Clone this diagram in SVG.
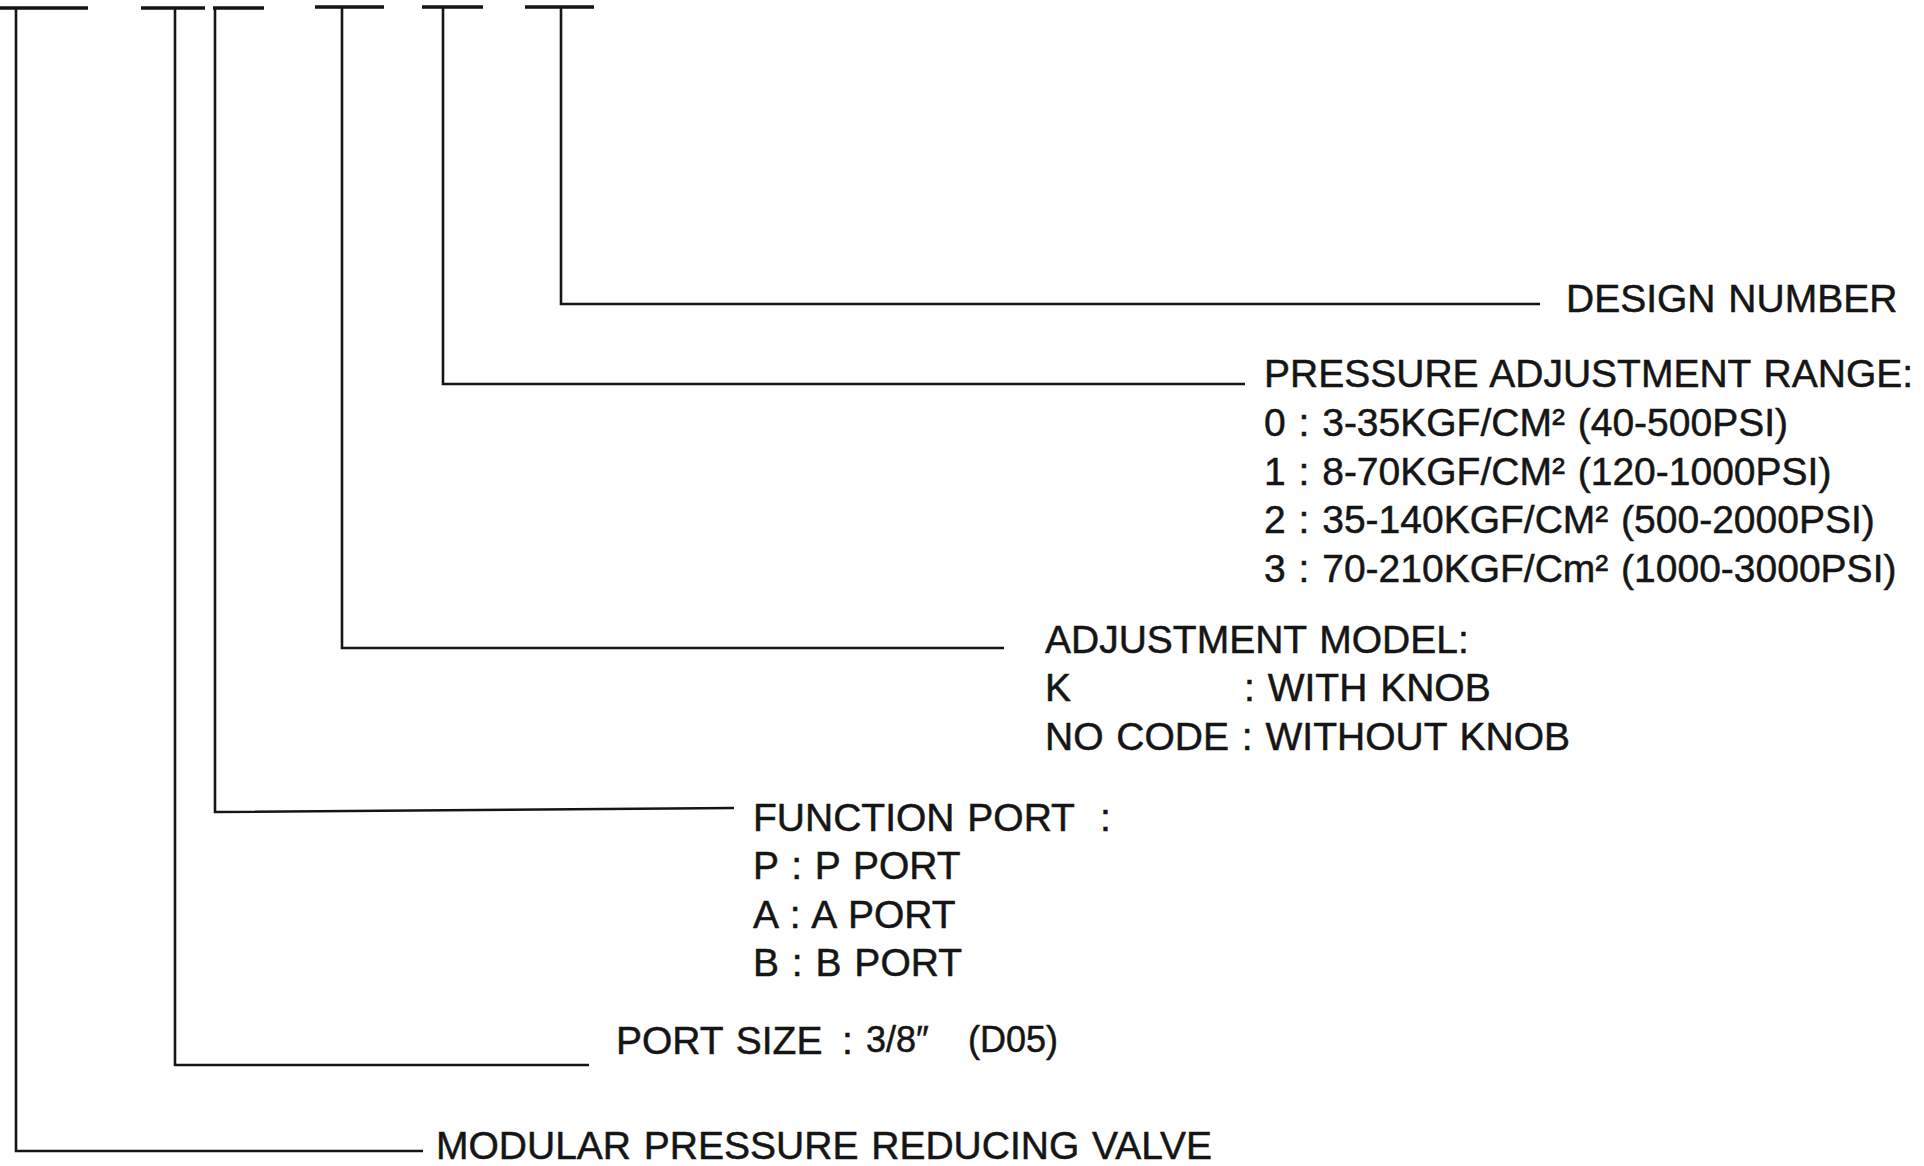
<svg xmlns="http://www.w3.org/2000/svg" width="1924" height="1166" viewBox="0 0 1924 1166">
<style>
.ln{fill:none;stroke:#151515;stroke-width:2.6;stroke-linejoin:miter}
.bar{fill:none;stroke:#151515;stroke-width:3.4}
text{font-family:"Liberation Sans",Arial,Helvetica,sans-serif;font-size:39px;fill:#151515;stroke:#151515;stroke-width:0.5;word-spacing:2px}
.sm{font-size:36px}
</style>
<rect width="1924" height="1166" fill="#ffffff"/>
<g id="connectors">
<path class="bar" d="M0 8H88M141 8H205M213 8H264M315 7H384M422 7H483M525 7H594"/>
<path class="ln" d="M16 8V1151H423"/>
<path class="ln" d="M175 8V1065H589"/>
<path class="ln" d="M215 8V812L734 808"/>
<path class="ln" d="M342 7V648H1004"/>
<path class="ln" d="M443 7V384H1245"/>
<path class="ln" d="M561 7V304H1540"/>
</g>
<g id="design-number"><text x="1566" y="312">DESIGN NUMBER</text></g>
<g id="pressure-range">
<text x="1264" y="387">PRESSURE ADJUSTMENT RANGE:</text>
<text x="1264" y="436">0 : 3-35KGF/CM² (40-500PSI)</text>
<text x="1264" y="485">1 : 8-70KGF/CM² (120-1000PSI)</text>
<text x="1264" y="533">2 : 35-140KGF/CM² (500-2000PSI)</text>
<text x="1264" y="582">3 : 70-210KGF/Cm² (1000-3000PSI)</text>
</g>
<g id="adjustment-model">
<text x="1045" y="653">ADJUSTMENT MODEL:</text>
<text x="1045" y="701">K</text>
<text x="1244" y="701">: WITH KNOB</text>
<text x="1045" y="750">NO CODE : WITHOUT KNOB</text>
</g>
<g id="function-port">
<text x="753" y="831">FUNCTION PORT</text>
<text x="1100" y="831">:</text>
<text x="753" y="879">P : P PORT</text>
<text x="753" y="928">A : A PORT</text>
<text x="753" y="976">B : B PORT</text>
</g>
<g id="port-size">
<text x="616" y="1054">PORT SIZE</text>
<text x="842" y="1054">:</text>
<text class="sm" x="866" y="1052">3/8″</text>
<text class="sm" x="968" y="1052">(D05)</text>
</g>
<g id="valve-type"><text x="436" y="1159">MODULAR PRESSURE REDUCING VALVE</text></g>
</svg>
